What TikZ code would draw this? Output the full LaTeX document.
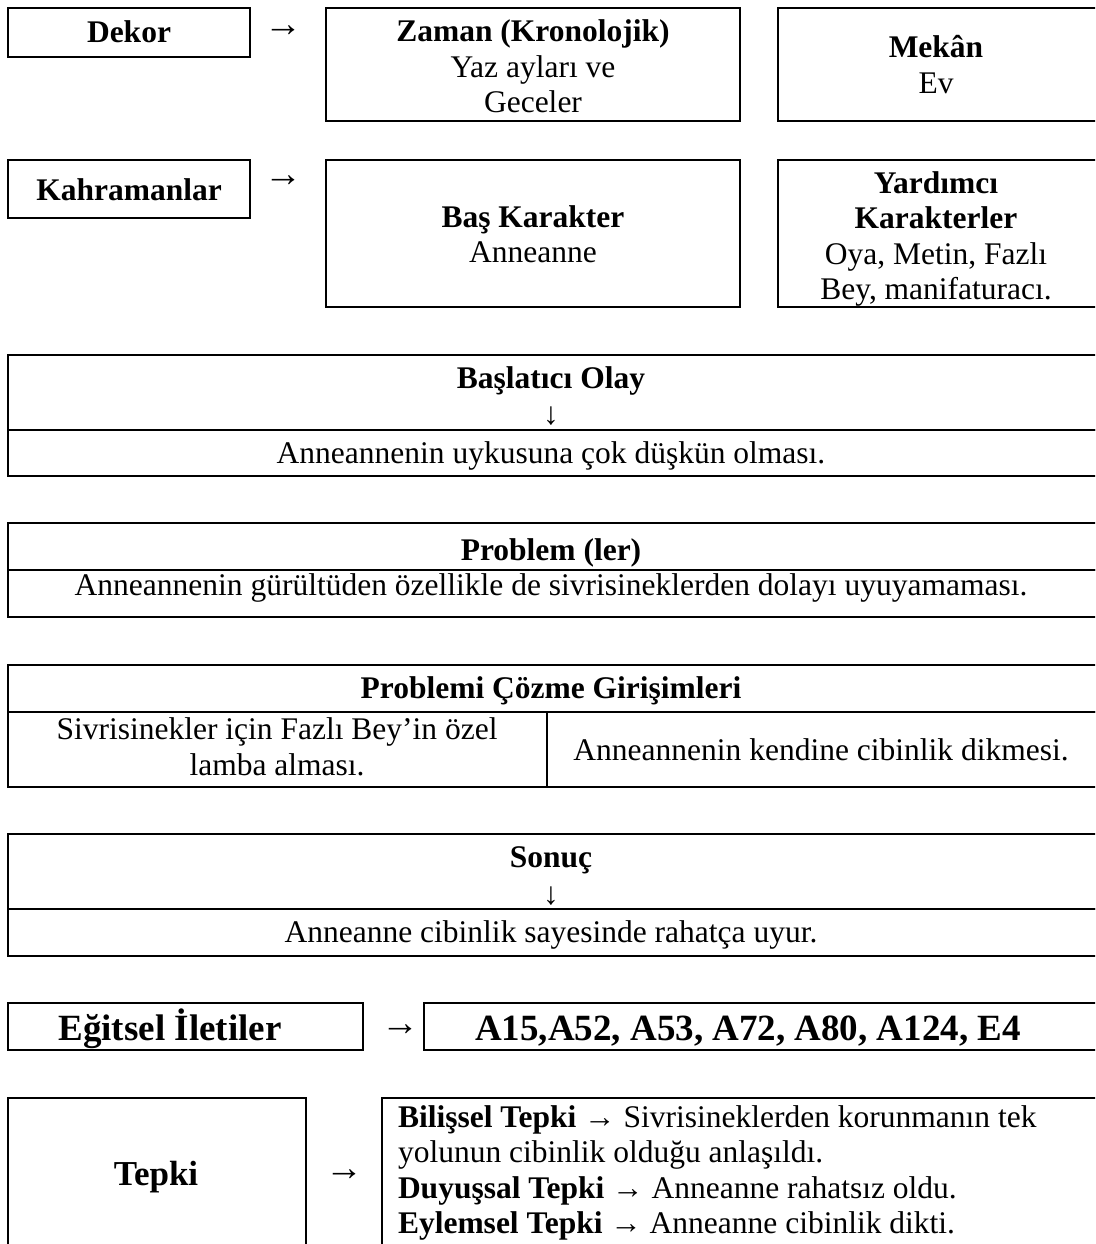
\documentclass[tikz,border=0pt]{standalone}
\usepackage{fontspec}
\setmainfont{Liberation Serif}
\newcommand\drawbox[5]{\node[box, minimum width=#4pt, minimum height=#5pt] (#1) at (#2,#3) {};}
\begin{document}
\begin{tikzpicture}[x=1pt,y=-1pt,
  every node/.style={inner sep=0pt, outer sep=0pt, font=\fontsize{31.5}{35.5}\selectfont},
  box/.style={draw, line width=2pt, anchor=north west},
  txt/.style={anchor=base, align=center},
  ltxt/.style={anchor=base west, align=left},
  big/.style={font=\fontsize{37}{42}\selectfont},
  glyph/.style={anchor=center, font=\fontsize{38}{40}\selectfont}]
\clip (0,0) rectangle (1095,1244);
\fill[white] (0,0) rectangle (1095,1244);
% boxes
\drawbox{dekor}{8}{8}{242}{49}
\drawbox{zaman}{326}{8}{414}{113}
\drawbox{mekan}{778}{8}{330}{113}
\drawbox{kahr}{8}{160}{242}{58}
\drawbox{bas}{326}{160}{414}{147}
\drawbox{yard}{778}{160}{330}{147}
\drawbox{bo1}{8}{355}{1100}{75}
\drawbox{bo2}{8}{430}{1100}{46}
\drawbox{pr1}{8}{523}{1100}{47}
\drawbox{pr2}{8}{570}{1100}{47}
\drawbox{gi1}{8}{665}{1100}{47}
\drawbox{gi2}{8}{712}{539}{75}
\drawbox{gi3}{547}{712}{560}{75}
\drawbox{so1}{8}{834}{1100}{75}
\drawbox{so2}{8}{909}{1100}{47}
\drawbox{eg}{8}{1003}{355}{47}
\drawbox{ac}{424}{1003}{700}{47}
\drawbox{te}{8}{1098}{298}{200}
\drawbox{bt}{382}{1098}{720}{200}
% texts (base anchor of a multi-line node = baseline of its last line)
\node[txt] (tdekor) at (129,43) {\textbf{Dekor}};
\node[glyph] (ar1) at (283,31) {→};
\node[txt] (tzaman) at (533,113) {\textbf{Zaman (Kronolojik)}\\Yaz ayları ve\\Geceler};
\node[txt] (tmekan) at (936,93.5) {\textbf{Mekân}\\Ev};
\node[txt] (tkahr) at (129,200) {\textbf{Kahramanlar}};
\node[glyph] (ar2) at (283,181) {→};
\node[txt] (tbas) at (533,262.5) {\textbf{Baş Karakter}\\Anneanne};
\node[txt] (tyard) at (936,299.5) {\textbf{Yardımcı}\\\textbf{Karakterler}\\Oya, Metin, Fazlı\\Bey, manifaturacı.};
\node[txt] (tbo1) at (551,388) {\textbf{Başlatıcı Olay}};
\node[glyph, font=\fontsize{31.5}{35}\selectfont] (ar3) at (551,416) {↓};
\node[txt] (tbo2) at (551,463) {Anneannenin uykusuna çok düşkün olması.};
\node[txt] (tpr1) at (551,560) {\textbf{Problem (ler)}};
\node[txt] (tpr2) at (551,595) {Anneannenin gürültüden özellikle de sivrisineklerden dolayı uyuyamaması.};
\node[txt] (tgi1) at (551,698) {\textbf{Problemi Çözme Girişimleri}};
\node[txt] (tgi2) at (277,775) {Sivrisinekler için Fazlı Bey’in özel\\lamba alması.};
\node[txt] (tgi3) at (821,760) {Anneannenin kendine cibinlik dikmesi.};
\node[txt] (tso1) at (551,867) {\textbf{Sonuç}};
\node[glyph, font=\fontsize{31.5}{35}\selectfont] (ar4) at (551,896) {↓};
\node[txt] (tso2) at (551,942) {Anneanne cibinlik sayesinde rahatça uyur.};
\node[txt, big] (teg) at (170,1040) {\textbf{Eğitsel İletiler}};
\node[glyph] (ar5) at (400,1030) {→};
\node[txt, big] (tac) at (748,1040) {\textbf{A15,A52, A53, A72, A80, A124, E4}};
\node[txt, font=\fontsize{35}{40}\selectfont] (tte) at (156,1185) {\textbf{Tepki}};
\node[glyph] (ar6) at (344,1175) {→};
\node[ltxt] (tbt) at (398,1233.5) {\textbf{Bilişsel Tepki} → Sivrisineklerden korunmanın tek\\yolunun cibinlik olduğu anlaşıldı.\\\textbf{Duyuşsal Tepki} → Anneanne rahatsız oldu.\\\textbf{Eylemsel Tepki} → Anneanne cibinlik dikti.};
\end{tikzpicture}
\end{document}
